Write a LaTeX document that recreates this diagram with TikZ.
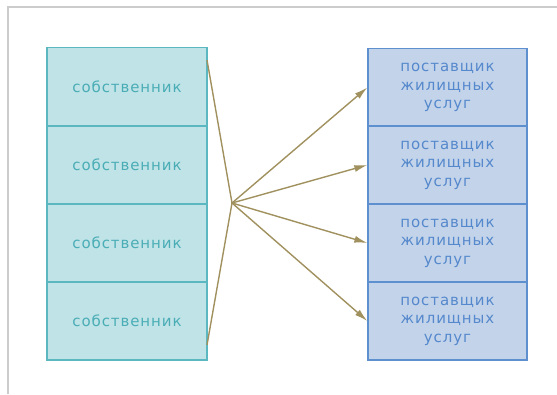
\documentclass[tikz,border=0pt]{standalone}
\usepackage{fontspec}
\setmainfont{DejaVu Sans}
\newfontfamily\boxfont[LetterSpace=6]{DejaVu Sans}
\usetikzlibrary{arrows.meta}
\definecolor{ownfill}{HTML}{BFE3E6}
\definecolor{owndraw}{HTML}{5BB8C0}
\definecolor{owntext}{HTML}{4AADB6}
\definecolor{supfill}{HTML}{C3D4EA}
\definecolor{supdraw}{HTML}{5E90D0}
\definecolor{suptext}{HTML}{5588CC}
\definecolor{link}{HTML}{A0915F}
\definecolor{frame}{HTML}{CCCCCC}
\tikzset{
  owner/.style={draw=owndraw, fill=ownfill, text=owntext, line width=1.3pt,
    minimum width=160pt, minimum height=78pt, inner sep=0pt,
    font=\boxfont\fontsize{15}{18.5}\selectfont},
  supplier/.style={draw=supdraw, fill=supfill, text=suptext, line width=1.3pt,
    minimum width=159pt, minimum height=78pt, inner sep=0pt, align=center,
    font=\boxfont\fontsize{15}{18.5}\selectfont},
  link/.style={draw=link, line width=1.4pt}
}
\begin{document}
\begin{tikzpicture}[x=1pt, y=-1pt]
  \useasboundingbox (0,0) rectangle (557,394);
    \draw[frame, line width=2pt] (8,394)--(8,7)--(557,7);

      \node[owner] (own1) at (127,86.5) {собственник};
      \node[owner] (own2) at (127,165) {собственник};
      \node[owner] (own3) at (127,243) {собственник};
      \node[owner] (own4) at (127,321) {собственник};

      \node[supplier] (sup1) at (447.5,87.5) {поставщик\\жилищных\\услуг};
      \node[supplier] (sup2) at (447.5,165) {поставщик\\жилищных\\услуг};
      \node[supplier] (sup3) at (447.5,243) {поставщик\\жилищных\\услуг};
      \node[supplier] (sup4) at (447.5,321) {поставщик\\жилищных\\услуг};

      \coordinate (top) at (207,60);
      \coordinate (bot) at (207,345);
      \coordinate (hub) at (232,203);
      \draw[link] (top)--(hub)--(bot);

      \foreach \i in {1,...,4}
        \draw[link, -{Latex[length=13pt,width=7pt]}] (hub)--(sup\i.west);
  \end{tikzpicture}
\end{document}
